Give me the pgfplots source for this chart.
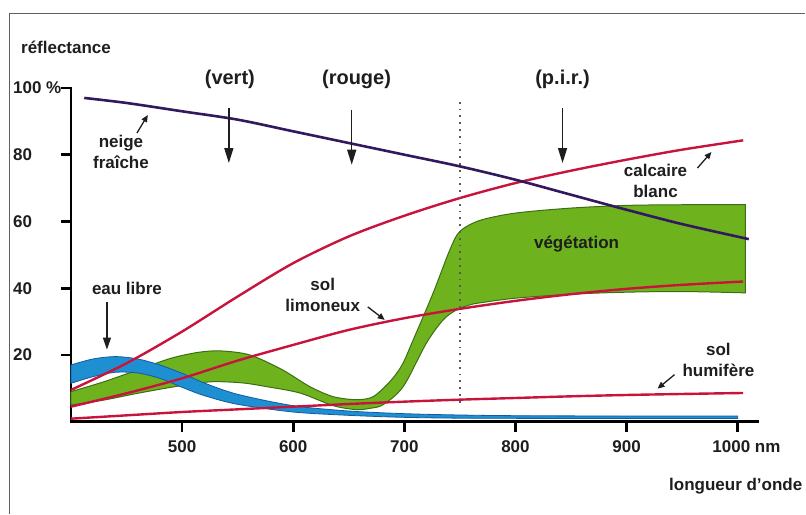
\documentclass[border=0pt]{standalone}
\usepackage{fontspec}
\setmainfont{Liberation Sans}
\usepackage{pgfplots}
\pgfplotsset{compat=1.18}
\usepgfplotslibrary{fillbetween}
\usetikzlibrary{arrows.meta}
\definecolor{redl}{RGB}{200,20,60}
\definecolor{snow}{RGB}{50,25,95}
\definecolor{wfill}{RGB}{30,144,210}
\definecolor{wedge}{RGB}{20,90,160}
\definecolor{vfill}{RGB}{110,178,30}
\definecolor{vedge}{RGB}{60,110,20}
\definecolor{txt}{RGB}{30,30,30}
\tikzset{
  lbl/.style={font=\fontsize{17}{21}\selectfont\bfseries, text=txt, align=center, inner sep=0pt},
  hdr/.style={font=\fontsize{20}{24}\selectfont\bfseries, text=txt, inner sep=0pt},
  bigarrow/.style={line width=1.4pt, txt, -{Triangle[length=15pt,width=9pt]}},
  smallarrow/.style={line width=1.3pt, txt, -{Triangle[length=7pt,width=6pt]}},
}
\begin{document}
\begin{tikzpicture}
\path (0pt,0pt) rectangle (806pt,514pt);
\draw[gray!75!black, line width=1.2pt] (9.5pt,0pt) -- (9.5pt,500.5pt) -- (806pt,500.5pt);
\begin{axis}[
  at={(71pt,92pt)}, anchor=south west,
  scale only axis, width=687pt, height=334pt,
  xmin=400, xmax=1017.8, ymin=0, ymax=100,
  axis lines*=left,
  axis line style={-, line width=2.8pt, black, line cap=rect},
  xtick={500,600,700,800,900,1000}, ytick={20,40,60,80,100},
  xticklabels={}, yticklabels={},
  ticklabel style={text opacity=0, font=\tiny},
  tick align=outside, major tick length=10pt,
  tick style={line width=2.8pt, black},
  clip=false,
]
% vegetation band
\addplot[name path=vu, draw=none, smooth] coordinates {
(400,9)(430,12)(460,15.5)(490,19)(515,20.8)(535,21.2)(561,20)(590,15.6)(615,10.5)(636,7.5)(657,6.6)(672,7.5)(687,12)(698,17)(708,24.5)(726,38.6)(741,51.5)(750,57)(768,60.3)(800,62.5)(850,64)(900,64.8)(950,65)(1007,65)};
\addplot[name path=vl, draw=none, smooth] coordinates {
(400,5)(430,6.5)(460,8.5)(490,10.3)(515,11.6)(531,12)(555,11.6)(576,10.5)(606,8.6)(636,4.8)(657,3.6)(669,4)(681,5.1)(699,10.5)(720,23.6)(735,30.5)(747,33.5)(759,35)(768,35.6)(800,37)(850,38.2)(900,38.8)(950,39)(1007,38.6)};
\addplot[fill=vfill, draw=vedge, line width=1pt] fill between[of=vu and vl];
% water band
\addplot[name path=wu, draw=none, smooth] coordinates {
(400,17)(420,18.8)(440,19.5)(460,18.8)(480,17)(500,14.5)(520,11.6)(550,8.2)(600,4.8)(650,3.2)(700,2.4)(750,2)(800,1.8)(900,1.7)(1000,1.7)};
\addplot[name path=wl, draw=none, smooth] coordinates {
(400,11.5)(420,13.5)(440,14.8)(460,14.6)(480,13)(500,10.3)(520,7.8)(550,5.2)(600,2.9)(650,1.9)(700,1.3)(750,1.05)(800,1)(900,0.95)(1000,0.95)};
\addplot[fill=wfill, draw=wedge, line width=0.8pt] fill between[of=wu and wl];
% soils
\addplot[redl, line width=2.4pt, smooth] coordinates {
(400,9.5)(450,17.5)(500,27)(550,37.5)(600,47.5)(650,55.5)(700,61.7)(750,67)(800,71.5)(850,75.2)(900,78.5)(950,81.5)(1005,84.3)};
\addplot[redl, line width=2.4pt, smooth] coordinates {
(400,4.5)(450,8.5)(500,13)(550,18.3)(600,23)(650,27.5)(700,31)(750,33.8)(800,36.2)(850,38.2)(900,39.8)(950,41)(1005,42)};
\addplot[redl, line width=2.4pt, smooth] coordinates {
(400,0.9)(450,1.9)(500,2.9)(550,3.7)(600,4.5)(650,5.3)(700,6)(750,6.6)(800,7.1)(850,7.6)(900,8)(950,8.3)(1005,8.6)};
% snow
\addplot[snow, line width=2.6pt, smooth] coordinates {
(412,97)(450,95.5)(500,93)(550,90.5)(600,87)(650,83.5)(700,80)(750,76.5)(800,72.5)(850,68)(900,63.5)(950,59.2)(1010,54.7)};
% dotted line
\addplot[line width=1.5pt, black!65, dash pattern=on 1.8pt off 5pt] coordinates {(750,5.7)(750,96)};
% texts
\node[lbl, anchor=base west] at (axis cs:355,110.2) {réflectance};
\node[hdr] at (axis cs:543,102.7) {(vert)};
\node[hdr] at (axis cs:657,102.7) {(rouge)};
\node[hdr] at (axis cs:842.4,102.7) {(p.i.r.)};
\draw[bigarrow] (axis cs:542.1,94) -- (axis cs:542.1,77.5);
\draw[bigarrow] (axis cs:652.7,93.4) -- (axis cs:652.7,77);
\draw[bigarrow] (axis cs:842.4,94) -- (axis cs:842.4,77.5);
\node[lbl] at (axis cs:445,80.8) {neige\\fraîche};
\draw[smallarrow] (axis cs:459.4,86.5) -- (axis cs:469.2,91.9);
\node[lbl] at (axis cs:926.1,72.2) {calcaire\\blanc};
\draw[smallarrow] (axis cs:963.8,76) -- (axis cs:976.4,80.8);
\node[lbl] at (axis cs:855,53.3) {végétation};
\node[lbl] at (axis cs:450.4,39.8) {eau libre};
\draw[line width=1.3pt, txt, -{Triangle[length=12pt,width=8pt]}] (axis cs:432.4,35.9) -- (axis cs:432.4,21.6);
\node[lbl] at (axis cs:626.6,38) {sol\\limoneux};
\draw[smallarrow] (axis cs:667.1,34.4) -- (axis cs:682.4,30.5);
\node[lbl] at (axis cs:982.7,18.6) {sol\\humifère};
\draw[smallarrow] (axis cs:943.2,14.1) -- (axis cs:927.9,9.9);
% tick labels
\node[lbl, anchor=west] at (axis cs:347.8,100) {100 \%};
\node[lbl, anchor=west] at (axis cs:347.8,80) {80};
\node[lbl, anchor=west] at (axis cs:347.8,60) {60};
\node[lbl, anchor=west] at (axis cs:347.8,40) {40};
\node[lbl, anchor=west] at (axis cs:347.8,20) {20};
\node[lbl] at (axis cs:500,-7.5) {500};
\node[lbl] at (axis cs:600,-7.5) {600};
\node[lbl] at (axis cs:700,-7.5) {700};
\node[lbl] at (axis cs:800,-7.5) {800};
\node[lbl] at (axis cs:900,-7.5) {900};
\node[lbl] at (axis cs:1007.9,-7.5) {1000 nm};
\node[lbl, anchor=base east] at (axis cs:1058.3,-20.7) {longueur d’onde};
\end{axis}
\end{tikzpicture}
\end{document}
